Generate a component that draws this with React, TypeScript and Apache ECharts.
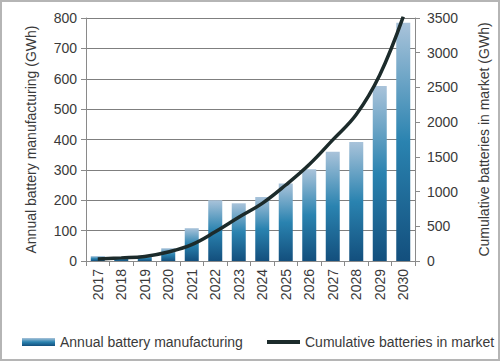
import React, { useEffect, useRef } from "react";
import * as echarts from "echarts";

const years = ["2017","2018","2019","2020","2021","2022","2023","2024","2025","2026","2027","2028","2029","2030"];
const annualManufacturing = [16, 13, 18, 42, 108, 200, 190, 211, 255, 302, 360, 392, 576, 784];
const cumulativeBatteries = [30, 45, 65, 130, 235, 420, 630, 830, 1095, 1390, 1745, 2110, 2680, 3520];
const leftTicks = { min: 0, max: 800, interval: 100 };
const rightTicks = { min: 0, max: 3500, interval: 500 };

export default function App() {
  const ref = useRef<HTMLDivElement>(null);
  useEffect(() => {
    if (!ref.current) return;
    const chart = echarts.init(ref.current, undefined, { renderer: "svg" });
    const font = "'Liberation Sans', Arial, sans-serif";
    const textColor = "#3a3a3a";
    const axisGray = "#8a8a8a";
    const lineColor = "#1c2b2b";
    const legendText = { fontSize: 14, color: textColor, fontFamily: font };
    chart.setOption({
      animation: false,
      textStyle: { fontFamily: font },
      grid: { left: 86, right: 85, top: 18, bottom: 100, containLabel: false },
      legend: [
        {
          left: 17,
          top: 330,
          itemWidth: 33,
          itemHeight: 8,
          textStyle: legendText,
          data: [{ name: "Annual battery manufacturing", icon: "rect" }],
        },
        {
          left: 262,
          top: 330,
          itemWidth: 33,
          itemHeight: 4,
          textStyle: legendText,
          data: [{ name: "Cumulative batteries in market", icon: "rect", itemStyle: { color: lineColor } }],
        },
      ],
      xAxis: {
        type: "category",
        data: years,
        axisLine: { lineStyle: { color: axisGray, width: 1 } },
        axisTick: { show: true, length: 5, lineStyle: { color: axisGray } },
        axisLabel: { rotate: 90, fontSize: 14, color: textColor, margin: 8, fontFamily: font },
      },
      yAxis: [
        {
          type: "value",
          ...leftTicks,
          name: "Annual battery manufacturing (GWh)",
          nameLocation: "middle",
          nameGap: 48,
          nameTextStyle: { fontSize: 14, color: textColor, fontFamily: font },
          axisLine: { show: true, lineStyle: { color: axisGray } },
          axisTick: { show: true, length: 5, lineStyle: { color: axisGray } },
          axisLabel: { fontSize: 14, color: textColor, margin: 9, fontFamily: font },
          splitLine: { show: true, lineStyle: { color: "#7f7f7f", width: 1 } },
        },
        {
          type: "value",
          ...rightTicks,
          name: "Cumulative batteries in market (GWh)",
          nameLocation: "middle",
          nameGap: 62,
          nameRotate: 90,
          nameTextStyle: { fontSize: 14, color: textColor, fontFamily: font },
          axisLine: { show: true, lineStyle: { color: axisGray } },
          axisTick: { show: true, length: 5, lineStyle: { color: axisGray } },
          axisLabel: { fontSize: 14, color: textColor, margin: 12, fontFamily: font, formatter: (v: number) => String(v) },
          splitLine: { show: false },
        },
      ],
      series: [
        {
          name: "Annual battery manufacturing",
          type: "bar",
          data: annualManufacturing,
          barWidth: 14,
          itemStyle: {
            color: new echarts.graphic.LinearGradient(0, 0, 0, 1, [
              { offset: 0, color: "#a9c3da" },
              { offset: 0.5, color: "#2a83b0" },
              { offset: 1, color: "#134f7d" },
            ]),
          },
        },
        {
          name: "Cumulative batteries in market",
          type: "line",
          yAxisIndex: 1,
          data: cumulativeBatteries,
          smooth: 0.4,
          symbol: "none",
          lineStyle: { color: lineColor, width: 3.5 },
          itemStyle: { color: lineColor },
        },
      ],
    });
    return () => chart.dispose();
  }, []);
  return (
    <div
      style={{
        position: "fixed",
        left: 0,
        top: 0,
        width: 500,
        height: 361,
        boxSizing: "border-box",
        border: "2px solid #b5b5b5",
        background: "#fff",
      }}
    >
      <div ref={ref} style={{ position: "absolute", left: -2, top: -2, width: 500, height: 361 }} />
    </div>
  );
}
